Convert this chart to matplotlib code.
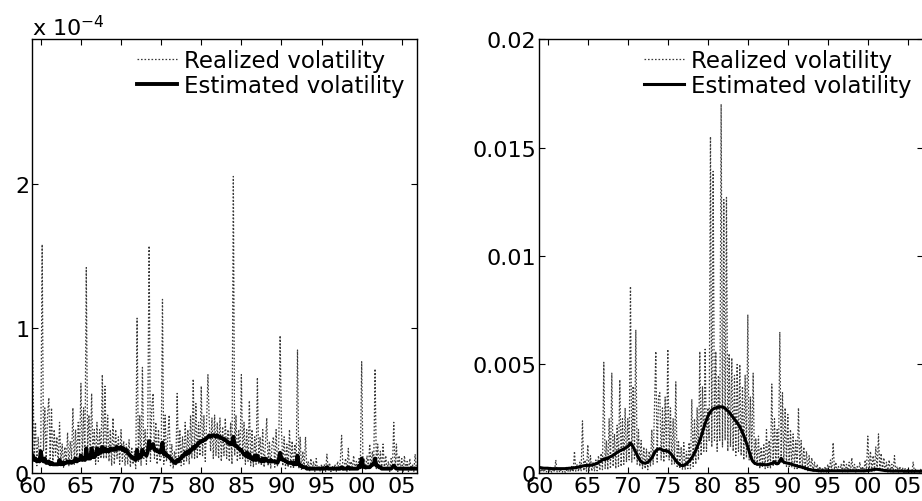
import numpy as np
import matplotlib
matplotlib.use("Agg")
import matplotlib.pyplot as plt
import matplotlib.transforms as mtransforms

# six observations per year, 1959-2006
first_year, per_year = 1959, 6

# left panel, units of 1e-4
rv_left = [
    [0.78, 0.12, 0.35, 0.05, 0.25, 0.10],  # 59
    [0.20, 1.58, 0.15, 0.45, 0.08, 0.40],
    [0.52, 0.10, 0.45, 0.06, 0.30, 0.12],
    [0.25, 0.05, 0.35, 0.08, 0.20, 0.04],
    [0.18, 0.06, 0.28, 0.05, 0.22, 0.10],
    [0.45, 0.06, 0.30, 0.08, 0.35, 0.12],
    [0.62, 0.10, 0.45, 0.08, 1.42, 0.15],  # 65
    [0.40, 0.10, 0.55, 0.12, 0.30, 0.06],
    [0.35, 0.08, 0.30, 0.10, 0.68, 0.10],
    [0.60, 0.10, 0.40, 0.08, 0.30, 0.05],
    [0.38, 0.06, 0.30, 0.10, 0.25, 0.06],
    [0.30, 0.08, 0.22, 0.05, 0.20, 0.06],  # 70
    [0.23, 0.04, 0.18, 0.06, 0.15, 0.03],
    [1.07, 0.08, 0.40, 0.05, 0.73, 0.10],
    [0.30, 0.06, 0.35, 1.57, 0.08, 0.45],
    [0.55, 0.10, 0.35, 0.06, 0.30, 0.08],
    [0.10, 1.20, 0.06, 0.40, 0.08, 0.25],  # 75
    [0.40, 0.05, 0.20, 0.03, 0.15, 0.05],
    [0.55, 0.08, 0.30, 0.05, 0.25, 0.06],
    [0.35, 0.08, 0.30, 0.06, 0.40, 0.10],
    [0.65, 0.10, 0.48, 0.10, 0.35, 0.12],
    [0.60, 0.12, 0.40, 0.08, 0.35, 0.68],  # 80
    [0.35, 0.15, 0.38, 0.10, 0.40, 0.12],
    [0.35, 0.10, 0.38, 0.08, 0.32, 0.12],
    [0.38, 0.10, 0.30, 0.08, 0.35, 0.06],
    [2.05, 0.12, 0.40, 0.08, 0.30, 0.10],
    [0.68, 0.10, 0.35, 0.06, 0.30, 0.08],  # 85
    [0.50, 0.05, 0.30, 0.04, 0.25, 0.06],
    [0.66, 0.06, 0.25, 0.05, 0.30, 0.04],
    [0.20, 0.38, 0.05, 0.22, 0.03, 0.20],
    [0.25, 0.04, 0.30, 0.05, 0.20, 0.95],
    [0.30, 0.05, 0.25, 0.03, 0.20, 0.04],  # 90
    [0.30, 0.04, 0.22, 0.03, 0.20, 0.05],
    [0.85, 0.03, 0.25, 0.02, 0.15, 0.03],
    [0.25, 0.02, 0.08, 0.01, 0.10, 0.02],
    [0.08, 0.01, 0.10, 0.02, 0.05, 0.01],
    [0.06, 0.02, 0.06, 0.01, 0.13, 0.02],  # 95
    [0.07, 0.01, 0.05, 0.02, 0.06, 0.01],
    [0.08, 0.02, 0.08, 0.26, 0.02, 0.05],
    [0.10, 0.01, 0.17, 0.02, 0.08, 0.03],
    [0.12, 0.02, 0.08, 0.03, 0.10, 0.04],
    [0.77, 0.03, 0.10, 0.02, 0.12, 0.03],  # 00
    [0.20, 0.04, 0.15, 0.05, 0.72, 0.03],
    [0.20, 0.03, 0.15, 0.02, 0.20, 0.02],
    [0.12, 0.02, 0.08, 0.01, 0.10, 0.03],
    [0.35, 0.02, 0.20, 0.01, 0.12, 0.02],
    [0.10, 0.01, 0.12, 0.02, 0.08, 0.01],  # 05
    [0.10, 0.02, 0.06, 0.01, 0.13, 0.02],
]
ev_left = [
    [0.12, 0.09, 0.10, 0.08, 0.09, 0.08],  # 59
    [0.15, 0.09, 0.08, 0.10, 0.07, 0.07],
    [0.08, 0.06, 0.07, 0.06, 0.06, 0.06],
    [0.06, 0.06, 0.09, 0.06, 0.07, 0.06],
    [0.07, 0.07, 0.08, 0.07, 0.08, 0.07],
    [0.08, 0.08, 0.10, 0.08, 0.09, 0.09],
    [0.12, 0.09, 0.10, 0.09, 0.17, 0.10],  # 65
    [0.10, 0.10, 0.17, 0.11, 0.11, 0.12],
    [0.17, 0.13, 0.16, 0.14, 0.18, 0.15],
    [0.17, 0.15, 0.16, 0.15, 0.17, 0.16],
    [0.16, 0.17, 0.16, 0.18, 0.17, 0.17],
    [0.18, 0.16, 0.17, 0.15, 0.16, 0.14],  # 70
    [0.13, 0.12, 0.11, 0.10, 0.10, 0.09],
    [0.16, 0.10, 0.12, 0.11, 0.16, 0.13],
    [0.13, 0.12, 0.15, 0.22, 0.17, 0.18],
    [0.20, 0.16, 0.16, 0.15, 0.15, 0.14],
    [0.15, 0.21, 0.13, 0.14, 0.12, 0.12],  # 75
    [0.11, 0.10, 0.09, 0.08, 0.07, 0.07],
    [0.09, 0.08, 0.10, 0.10, 0.12, 0.12],
    [0.14, 0.13, 0.15, 0.14, 0.16, 0.16],
    [0.18, 0.17, 0.19, 0.19, 0.21, 0.21],
    [0.22, 0.22, 0.23, 0.23, 0.24, 0.25],  # 80
    [0.26, 0.25, 0.26, 0.26, 0.26, 0.25],
    [0.26, 0.25, 0.25, 0.24, 0.24, 0.23],
    [0.23, 0.22, 0.21, 0.21, 0.20, 0.20],
    [0.25, 0.19, 0.19, 0.18, 0.17, 0.16],
    [0.16, 0.14, 0.13, 0.12, 0.14, 0.11],  # 85
    [0.13, 0.10, 0.10, 0.09, 0.12, 0.09],
    [0.12, 0.09, 0.09, 0.08, 0.10, 0.08],
    [0.10, 0.09, 0.08, 0.08, 0.09, 0.08],
    [0.08, 0.08, 0.08, 0.07, 0.09, 0.14],
    [0.10, 0.09, 0.09, 0.08, 0.08, 0.07],  # 90
    [0.07, 0.07, 0.07, 0.06, 0.07, 0.06],
    [0.12, 0.06, 0.05, 0.05, 0.04, 0.04],
    [0.04, 0.03, 0.03, 0.03, 0.03, 0.03],
    [0.03, 0.03, 0.03, 0.03, 0.03, 0.03],
    [0.03, 0.03, 0.03, 0.03, 0.04, 0.03],  # 95
    [0.03, 0.03, 0.03, 0.03, 0.03, 0.03],
    [0.03, 0.03, 0.03, 0.04, 0.03, 0.03],
    [0.03, 0.03, 0.04, 0.03, 0.03, 0.03],
    [0.03, 0.03, 0.03, 0.03, 0.05, 0.04],
    [0.10, 0.05, 0.04, 0.04, 0.04, 0.04],  # 00
    [0.04, 0.05, 0.06, 0.06, 0.10, 0.05],
    [0.05, 0.04, 0.04, 0.03, 0.03, 0.03],
    [0.03, 0.03, 0.03, 0.03, 0.03, 0.04],
    [0.05, 0.04, 0.03, 0.03, 0.03, 0.03],
    [0.03, 0.03, 0.03, 0.03, 0.03, 0.03],  # 05
    [0.03, 0.03, 0.03, 0.03, 0.03, 0.03],
]

# right panel, units of 1e-3
rv_right = [
    [0.30, 0.05, 0.20, 0.04, 0.15, 0.05],  # 59
    [0.25, 0.04, 0.15, 0.03, 0.20, 0.05],
    [0.60, 0.05, 0.20, 0.03, 0.15, 0.04],
    [0.20, 0.03, 0.15, 0.05, 0.25, 0.04],
    [0.30, 0.05, 1.00, 0.08, 0.40, 0.06],
    [0.50, 0.08, 2.40, 0.10, 0.60, 0.08],
    [1.30, 0.10, 0.80, 0.08, 0.50, 0.10],  # 65
    [0.60, 0.10, 0.80, 0.12, 0.90, 0.15],
    [5.10, 0.20, 1.50, 0.15, 2.50, 0.20],
    [4.60, 0.30, 1.80, 0.20, 2.20, 0.30],
    [4.30, 0.30, 2.50, 0.40, 3.00, 0.50],
    [2.50, 0.60, 8.60, 0.50, 4.00, 0.60],  # 70
    [6.60, 0.40, 2.00, 0.30, 1.50, 0.20],
    [1.20, 0.20, 1.10, 0.15, 1.00, 0.30],
    [2.00, 0.40, 3.00, 5.60, 0.50, 3.50],
    [3.70, 0.60, 3.00, 0.50, 3.50, 0.70],
    [5.70, 0.60, 3.00, 0.40, 2.50, 0.40],  # 75
    [4.20, 0.30, 1.50, 0.20, 1.20, 0.15],
    [1.40, 0.15, 1.00, 0.20, 1.40, 0.20],
    [3.40, 0.30, 2.50, 0.40, 3.00, 0.60],
    [5.60, 0.80, 4.00, 1.00, 5.70, 1.00],
    [3.00, 1.50, 15.5, 1.20, 13.9, 1.50],  # 80
    [5.60, 1.00, 4.50, 1.50, 17.0, 1.20],
    [12.6, 1.50, 12.7, 1.00, 5.50, 1.20],
    [5.30, 1.00, 4.50, 0.80, 5.00, 1.00],
    [5.00, 0.80, 4.00, 0.60, 4.50, 0.70],
    [7.30, 0.60, 3.50, 0.50, 4.60, 0.40],  # 85
    [1.60, 0.30, 1.70, 0.20, 1.20, 0.25],
    [1.30, 0.20, 2.00, 0.25, 1.50, 0.20],
    [4.10, 0.30, 2.50, 0.40, 2.00, 0.40],
    [6.50, 0.50, 3.70, 0.40, 3.00, 0.30],
    [2.70, 0.30, 2.00, 0.25, 1.80, 0.20],  # 90
    [1.50, 0.20, 3.00, 0.25, 1.50, 0.20],
    [1.20, 0.15, 1.00, 0.10, 0.80, 0.10],
    [0.70, 0.08, 0.50, 0.06, 0.40, 0.05],
    [0.30, 0.04, 0.25, 0.05, 0.30, 0.04],
    [0.40, 0.05, 0.60, 0.06, 1.40, 0.08],  # 95
    [0.50, 0.05, 0.30, 0.04, 0.40, 0.05],
    [0.60, 0.06, 0.40, 0.05, 0.50, 0.06],
    [0.70, 0.05, 0.40, 0.04, 0.30, 0.05],
    [0.50, 0.06, 0.30, 0.05, 0.60, 0.08],
    [1.70, 0.10, 1.00, 0.08, 0.80, 0.10],  # 00
    [1.20, 0.10, 1.80, 0.12, 0.90, 0.08],
    [0.70, 0.06, 0.50, 0.05, 0.60, 0.05],
    [0.40, 0.05, 0.80, 0.04, 0.30, 0.04],
    [0.30, 0.03, 0.25, 0.04, 0.20, 0.03],
    [0.20, 0.03, 0.15, 0.02, 0.50, 0.03],  # 05
    [0.20, 0.02, 0.15, 0.03, 0.20, 0.02],
]
ev_right = [
    [0.25, 0.24, 0.23, 0.22, 0.22, 0.22],  # 59
    [0.22, 0.21, 0.21, 0.20, 0.20, 0.20],
    [0.20, 0.20, 0.20, 0.20, 0.20, 0.20],
    [0.20, 0.20, 0.21, 0.21, 0.22, 0.22],
    [0.23, 0.23, 0.24, 0.25, 0.26, 0.27],
    [0.28, 0.30, 0.32, 0.33, 0.34, 0.35],
    [0.35, 0.35, 0.36, 0.37, 0.38, 0.40],  # 65
    [0.42, 0.45, 0.48, 0.52, 0.56, 0.60],
    [0.65, 0.62, 0.68, 0.66, 0.72, 0.75],
    [0.78, 0.82, 0.86, 0.90, 0.95, 0.98],
    [1.02, 1.05, 1.08, 1.10, 1.15, 1.18],
    [1.22, 1.28, 1.38, 1.30, 1.20, 1.08],  # 70
    [0.95, 0.82, 0.70, 0.60, 0.52, 0.48],
    [0.46, 0.45, 0.47, 0.50, 0.55, 0.62],
    [0.70, 0.80, 0.92, 1.02, 1.08, 1.10],
    [1.12, 1.10, 1.05, 1.03, 1.04, 1.02],
    [1.00, 0.96, 0.90, 0.83, 0.75, 0.66],  # 75
    [0.58, 0.50, 0.44, 0.38, 0.35, 0.34],
    [0.35, 0.38, 0.42, 0.48, 0.55, 0.62],
    [0.70, 0.80, 0.92, 1.05, 1.20, 1.35],
    [1.50, 1.68, 1.88, 2.08, 2.28, 2.45],
    [2.60, 2.72, 2.82, 2.90, 2.95, 2.98],  # 80
    [3.00, 3.02, 3.03, 3.04, 3.05, 3.04],
    [3.02, 2.98, 2.92, 2.86, 2.80, 2.72],
    [2.64, 2.56, 2.48, 2.40, 2.32, 2.22],
    [2.12, 2.00, 1.88, 1.72, 1.55, 1.38],
    [1.20, 1.00, 0.80, 0.62, 0.52, 0.46],  # 85
    [0.43, 0.41, 0.40, 0.40, 0.39, 0.39],
    [0.39, 0.38, 0.38, 0.39, 0.40, 0.42],
    [0.44, 0.46, 0.52, 0.44, 0.42, 0.45],
    [0.55, 0.68, 0.56, 0.50, 0.48, 0.46],
    [0.45, 0.44, 0.42, 0.40, 0.38, 0.36],  # 90
    [0.34, 0.32, 0.30, 0.29, 0.28, 0.26],
    [0.24, 0.22, 0.20, 0.18, 0.16, 0.15],
    [0.14, 0.13, 0.12, 0.12, 0.11, 0.11],
    [0.10, 0.10, 0.10, 0.10, 0.10, 0.10],
    [0.10, 0.10, 0.10, 0.10, 0.10, 0.10],  # 95
    [0.10, 0.10, 0.10, 0.10, 0.10, 0.10],
    [0.10, 0.10, 0.10, 0.10, 0.10, 0.10],
    [0.10, 0.10, 0.10, 0.10, 0.10, 0.10],
    [0.10, 0.10, 0.10, 0.10, 0.10, 0.11],
    [0.11, 0.12, 0.13, 0.14, 0.15, 0.16],  # 00
    [0.17, 0.17, 0.16, 0.15, 0.14, 0.13],
    [0.12, 0.11, 0.11, 0.10, 0.10, 0.10],
    [0.09, 0.09, 0.09, 0.09, 0.09, 0.09],
    [0.09, 0.09, 0.09, 0.08, 0.08, 0.08],
    [0.08, 0.08, 0.08, 0.08, 0.08, 0.08],  # 05
    [0.08, 0.08, 0.08, 0.08, 0.08, 0.08],
]

tick_years = [1960, 1965, 1970, 1975, 1980, 1985, 1990, 1995, 2000, 2005]
tick_labels = ["60", "65", "70", "75", "80", "85", "90", "95", "00", "05"]

plt.rcParams["font.family"] = ["DejaVu Sans"]
plt.rcParams["font.size"] = 16

n = len(rv_left) * per_year
t = first_year + np.arange(n) / per_year

fig = plt.figure(figsize=(9.22, 5.02), dpi=100)
ax1 = fig.add_axes([0.0347, 0.0558, 0.4176, 0.8645])
ax2 = fig.add_axes([0.5846, 0.0558, 0.4165, 0.8645])

panels = [
    (ax1, np.ravel(rv_left) * 1e-4, np.ravel(ev_left) * 1e-4, 2.8),
    (ax2, np.ravel(rv_right) * 1e-3, np.ravel(ev_right) * 1e-3, 2.2),
]

for ax, rv, ev, lw in panels:
    ax.plot(t, rv, color="#3a3a3a", lw=0.9, linestyle=(0, (1.3, 1.5)),
            label="Realized volatility")
    ax.plot(t, ev, color="k", lw=lw, label="Estimated volatility")
    ax.set_xlim(1958.9, 2006.9)
    ax.set_xticks(tick_years)
    ax.set_xticklabels(tick_labels)
    ax.tick_params(direction="in", top=True, right=True, length=4,
                   width=0.8, labelsize=16, pad=2)
    for s in ax.spines.values():
        s.set_linewidth(1.0)
    ax.legend(loc="upper left", bbox_to_anchor=(0.273, 0.977),
              frameon=False, handlelength=1.75, handletextpad=0.3,
              labelspacing=0.1, borderpad=0, borderaxespad=0,
              fontsize=16.5)
    # nudge the first year label left, as in the original
    lab = ax.get_xticklabels()[0]
    lab.set_transform(lab.get_transform() +
                      mtransforms.ScaledTranslation(-8 / 100, 0, fig.dpi_scale_trans))

ax1.set_ylim(0, 3e-4)
ax1.set_yticks([0, 1e-4, 2e-4])
ax1.set_yticklabels(["0", "1", "2"])
ax1.text(0, 1.0, r"x 10$^{\mathregular{-4}}$", transform=ax1.transAxes,
         ha="left", va="bottom", fontsize=16)

ax2.set_ylim(0, 0.02)
ax2.set_yticks([0, 0.005, 0.01, 0.015, 0.02])
ax2.set_yticklabels(["0", "0.005", "0.01", "0.015", "0.02"])

fig.savefig("out.png", dpi=100, facecolor="white")
